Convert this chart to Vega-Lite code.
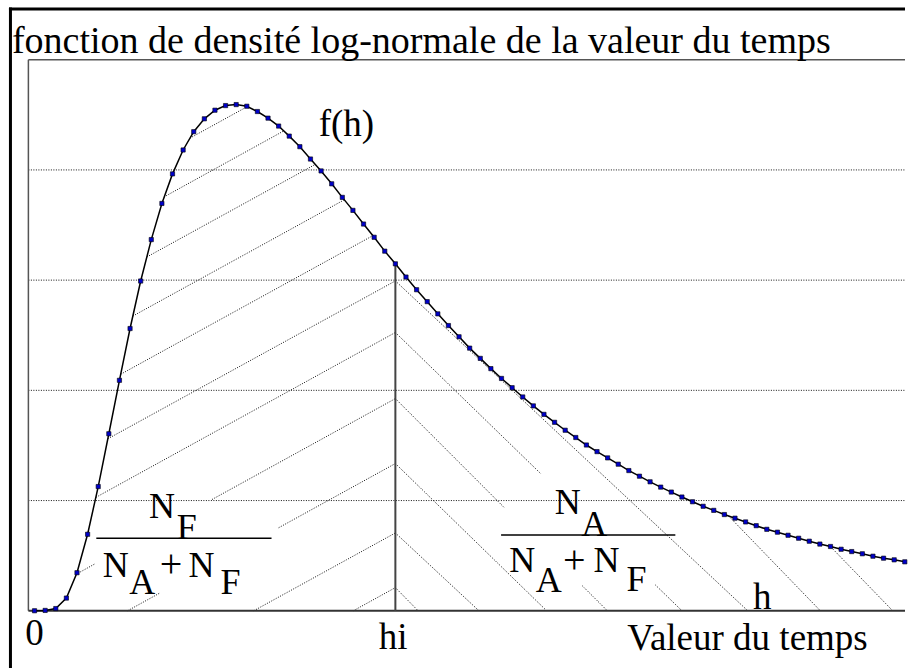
{
  "$schema": "https://vega.github.io/schema/vega-lite/v6.json",
  "width": 909,
  "height": 670,
  "autosize": {"type": "fit", "contains": "padding"},
  "padding": 0,
  "background": "white",
  "config": {"view": {"stroke": null}, "text": {"font": "Liberation Serif"}},
  "datasets": {
    "curve": [{"h":0,"f":0},{"h":1,"f":0.003},{"h":2,"f":0.02},{"h":3,"f":0.115},{"h":4,"f":0.345},{"h":5,"f":0.694},{"h":6,"f":1.127},{"h":7,"f":1.606},{"h":8,"f":2.091},{"h":9,"f":2.561},{"h":10,"f":2.992},{"h":11,"f":3.368},{"h":12,"f":3.696},{"h":13,"f":3.964},{"h":14,"f":4.181},{"h":15,"f":4.347},{"h":16,"f":4.464},{"h":17,"f":4.542},{"h":18,"f":4.584},{"h":19,"f":4.593},{"h":20,"f":4.578},{"h":21,"f":4.53},{"h":22,"f":4.47},{"h":23,"f":4.398},{"h":24,"f":4.307},{"h":25,"f":4.211},{"h":26,"f":4.099},{"h":27,"f":3.991},{"h":28,"f":3.874},{"h":29,"f":3.751},{"h":30,"f":3.633},{"h":31,"f":3.509},{"h":32,"f":3.389},{"h":33,"f":3.263},{"h":34,"f":3.148},{"h":35,"f":3.028},{"h":36,"f":2.913},{"h":37,"f":2.805},{"h":38,"f":2.694},{"h":39,"f":2.588},{"h":40,"f":2.486},{"h":41,"f":2.383},{"h":42,"f":2.29},{"h":43,"f":2.197},{"h":44,"f":2.108},{"h":45,"f":2.024},{"h":46,"f":1.94},{"h":47,"f":1.859},{"h":48,"f":1.782},{"h":49,"f":1.71},{"h":50,"f":1.638},{"h":51,"f":1.572},{"h":52,"f":1.504},{"h":53,"f":1.444},{"h":54,"f":1.387},{"h":55,"f":1.33},{"h":56,"f":1.272},{"h":57,"f":1.221},{"h":58,"f":1.17},{"h":59,"f":1.122},{"h":60,"f":1.077},{"h":61,"f":1.032},{"h":62,"f":0.989},{"h":63,"f":0.948},{"h":64,"f":0.911},{"h":65,"f":0.873},{"h":66,"f":0.84},{"h":67,"f":0.806},{"h":68,"f":0.772},{"h":69,"f":0.739},{"h":70,"f":0.713},{"h":71,"f":0.685},{"h":72,"f":0.658},{"h":73,"f":0.631},{"h":74,"f":0.605},{"h":75,"f":0.583},{"h":76,"f":0.558},{"h":77,"f":0.537},{"h":78,"f":0.517},{"h":79,"f":0.495},{"h":80,"f":0.477},{"h":81,"f":0.462},{"h":82,"f":0.444}],
    "hatch": [
      {"h":30.04,"f":0,"h2":34,"f2":0.21},
      {"h":20.66,"f":0,"h2":34,"f2":0.706},
      {"h":8.77,"f":0,"h2":11.75,"f2":0.158},
      {"h":23.0,"f":0.753,"h2":34,"f2":1.336},
      {"h":3.9,"f":0.33,"h2":5.66,"f2":0.424},
      {"h":16.73,"f":1.01,"h2":34,"f2":1.925},
      {"h":5.8,"f":1.03,"h2":34,"f2":2.525},
      {"h":6.9,"f":1.56,"h2":34,"f2":2.993},
      {"h":8.12,"f":2.146,"h2":31.9,"f2":3.405},
      {"h":9.26,"f":2.674,"h2":29.15,"f2":3.727},
      {"h":10.58,"f":3.21,"h2":26.45,"f2":4.05},
      {"h":12.2,"f":3.755,"h2":23.5,"f2":4.355},
      {"h":14.65,"f":4.289,"h2":20.05,"f2":4.575},
      {"h":34,"f":0.21,"h2":36.14,"f2":0},
      {"h":34,"f":0.706,"h2":41.87,"f2":0},
      {"h":34,"f":1.336,"h2":48.25,"f2":0},
      {"h":34,"f":1.925,"h2":44.28,"f2":0.934},
      {"h":51.62,"f":0.226,"h2":53.97,"f2":0},
      {"h":34,"f":2.525,"h2":47.71,"f2":1.243},
      {"h":58.5,"f":0.234,"h2":61.0,"f2":0},
      {"h":34,"f":2.993,"h2":67.2,"f2":0},
      {"h":65.4,"f":0.86,"h2":74.04,"f2":0},
      {"h":74.92,"f":0.59,"h2":80.86,"f2":0}
    ],
    "grid": [
      {"h":-0.58,"f":1,"h2":82.02,"f2":1},
      {"h":-0.58,"f":2,"h2":82.02,"f2":2},
      {"h":-0.58,"f":3,"h2":82.02,"f2":3},
      {"h":-0.58,"f":4,"h2":82.02,"f2":4}
    ],
    "frame": [
      {"h":-0.58,"f":0,"h2":-0.58,"f2":5.0},
      {"h":-0.58,"f":5.0,"h2":82.02,"f2":5.0}
    ],
    "axisline": [
      {"h":-0.58,"f":0,"h2":82.02,"f2":0}
    ],
    "outer": [
      {"h":-2.27,"f":-0.52,"h2":-2.27,"f2":5.475},
      {"h":-2.41,"f":5.461,"h2":82.02,"f2":5.461}
    ],
    "hiline": [
      {"h":34,"f":0,"h2":34,"f2":3.148}
    ],
    "bars": [
      {"h":5.82,"f":0.658,"h2":22.33,"f2":0.658},
      {"h":43.96,"f":0.688,"h2":60.38,"f2":0.688}
    ],
    "title": [
      {"h":-2.13,"f":5.059,"t":"fonction de densité log-normale de la valeur du temps"}
    ],
    "labels": [
      {"h":0,"f":-0.314,"t":"0"},
      {"h":33.8,"f":-0.345,"t":"hi"},
      {"h":67.18,"f":-0.36,"t":"Valeur du temps"},
      {"h":29.39,"f":4.307,"t":"f(h)"},
      {"h":68.58,"f":0.016,"t":"h"}
    ],
    "frac": [
      {"h":12.0,"f":0.845,"t":"N"},
      {"h":14.35,"f":0.649,"t":"F"},
      {"h":7.65,"f":0.303,"t":"N"},
      {"h":10.15,"f":0.152,"t":"A"},
      {"h":15.74,"f":0.303,"t":"N"},
      {"h":18.46,"f":0.152,"t":"F"},
      {"h":50.25,"f":0.874,"t":"N"},
      {"h":52.75,"f":0.679,"t":"A"},
      {"h":45.95,"f":0.348,"t":"N"},
      {"h":48.45,"f":0.167,"t":"A"},
      {"h":53.89,"f":0.348,"t":"N"},
      {"h":56.71,"f":0.183,"t":"F"}
    ],
    "plus": [
      {"h":12.85,"f":0.31,"t":"+"},
      {"h":50.85,"f":0.345,"t":"+"}
    ]
  },
  "encoding": {
    "x": {"field": "h", "type": "quantitative", "scale": {"domain": [-3.255, 82.02], "nice": false, "zero": false}, "axis": null},
    "y": {"field": "f", "type": "quantitative", "scale": {"domain": [-0.5104, 5.542], "nice": false, "zero": false}, "axis": null}
  },
  "layer": [
    {"data": {"name": "outer"}, "mark": {"type": "rule", "color": "black", "strokeWidth": 3},
     "encoding": {"x2": {"field": "h2"}, "y2": {"field": "f2"}}},
    {"data": {"name": "grid"}, "mark": {"type": "rule", "color": "#111", "strokeWidth": 1, "strokeDash": [1, 1.5]},
     "encoding": {"x2": {"field": "h2"}, "y2": {"field": "f2"}}},
    {"data": {"name": "hatch"}, "mark": {"type": "rule", "color": "#111", "strokeWidth": 1, "strokeDash": [1, 1.5]},
     "encoding": {"x2": {"field": "h2"}, "y2": {"field": "f2"}}},
    {"data": {"name": "frame"}, "mark": {"type": "rule", "color": "#555", "strokeWidth": 1.5},
     "encoding": {"x2": {"field": "h2"}, "y2": {"field": "f2"}}},
    {"data": {"name": "axisline"}, "mark": {"type": "rule", "color": "#333", "strokeWidth": 2},
     "encoding": {"x2": {"field": "h2"}, "y2": {"field": "f2"}}},
    {"data": {"name": "hiline"}, "mark": {"type": "rule", "color": "#444", "strokeWidth": 2},
     "encoding": {"x2": {"field": "h2"}, "y2": {"field": "f2"}}},
    {"data": {"name": "curve"}, "mark": {"type": "line", "color": "black", "strokeWidth": 1.5}},
    {"data": {"name": "curve"}, "mark": {"type": "point", "shape": "square", "filled": true, "size": 18, "color": "#0000c8", "stroke": "black", "strokeWidth": 0.6, "opacity": 1}},
    {"data": {"name": "bars"}, "mark": {"type": "rule", "color": "black", "strokeWidth": 1.5},
     "encoding": {"x2": {"field": "h2"}, "y2": {"field": "f2"}}},
    {"data": {"name": "title"}, "mark": {"type": "text", "align": "left", "baseline": "alphabetic", "fontSize": 38, "color": "black", "font": "Liberation Serif"},
     "encoding": {"text": {"field": "t"}}},
    {"data": {"name": "labels"}, "mark": {"type": "text", "align": "center", "baseline": "alphabetic", "fontSize": 37, "color": "black", "font": "Liberation Serif"},
     "encoding": {"text": {"field": "t"}}},
    {"data": {"name": "frac"}, "mark": {"type": "text", "align": "center", "baseline": "alphabetic", "fontSize": 36, "color": "black", "font": "Liberation Serif"},
     "encoding": {"text": {"field": "t"}}},
    {"data": {"name": "plus"}, "mark": {"type": "text", "align": "center", "baseline": "alphabetic", "fontSize": 40, "color": "black", "font": "Liberation Serif"},
     "encoding": {"text": {"field": "t"}}}
  ]
}
